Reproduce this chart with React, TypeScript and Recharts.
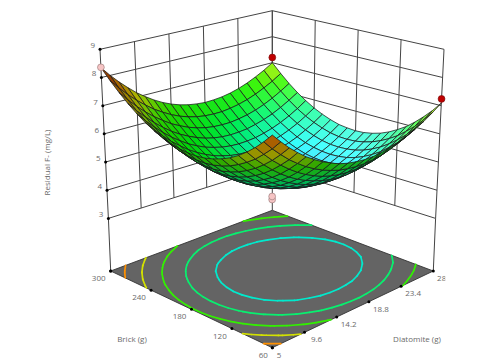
import { Scatter, ScatterChart, XAxis, YAxis } from "recharts";

const WIDTH = 490;
const HEIGHT = 363;

const brickLevels = [60, 72, 84, 96, 108, 120, 132, 144, 156, 168, 180, 192, 204, 216, 228, 240, 252, 264, 276, 288, 300];
const diatomiteLevels = [5, 6.15, 7.3, 8.45, 9.6, 10.75, 11.9, 13.05, 14.2, 15.35, 16.5, 17.65, 18.8, 19.95, 21.1, 22.25, 23.4, 24.55, 25.7, 26.85, 28];

// residual F-: one row per diatomite level, one column per brick level
const residualRows = [
  [8.09, 7.77, 7.48, 7.23, 7.01, 6.83, 6.69, 6.58, 6.5, 6.46, 6.46, 6.49, 6.55, 6.65, 6.79, 6.96, 7.17, 7.41, 7.69, 8.0, 8.35],
  [7.77, 7.44, 7.16, 6.9, 6.69, 6.51, 6.36, 6.25, 6.17, 6.13, 6.13, 6.16, 6.22, 6.32, 6.46, 6.63, 6.83, 7.07, 7.35, 7.66, 8.01],
  [7.47, 7.15, 6.86, 6.61, 6.39, 6.21, 6.06, 5.95, 5.87, 5.83, 5.83, 5.85, 5.92, 6.02, 6.15, 6.32, 6.53, 6.77, 7.04, 7.35, 7.7],
  [7.21, 6.88, 6.6, 6.34, 6.12, 5.94, 5.79, 5.68, 5.6, 5.56, 5.55, 5.58, 5.64, 5.74, 5.88, 6.04, 6.25, 6.49, 6.76, 7.07, 7.42],
  [6.97, 6.65, 6.36, 6.1, 5.88, 5.7, 5.55, 5.44, 5.36, 5.31, 5.31, 5.33, 5.4, 5.49, 5.63, 5.8, 6.0, 6.24, 6.51, 6.82, 7.16],
  [6.77, 6.44, 6.15, 5.89, 5.67, 5.49, 5.34, 5.22, 5.14, 5.1, 5.09, 5.12, 5.18, 5.28, 5.41, 5.57, 5.78, 6.01, 6.29, 6.59, 6.94],
  [6.59, 6.26, 5.97, 5.71, 5.49, 5.3, 5.15, 5.04, 4.96, 4.91, 4.9, 4.93, 4.99, 5.09, 5.22, 5.38, 5.58, 5.82, 6.09, 6.4, 6.74],
  [6.44, 6.11, 5.82, 5.56, 5.34, 5.15, 5.0, 4.88, 4.8, 4.76, 4.75, 4.77, 4.83, 4.92, 5.05, 5.22, 5.42, 5.66, 5.93, 6.23, 6.57],
  [6.31, 5.99, 5.69, 5.44, 5.21, 5.02, 4.87, 4.76, 4.67, 4.63, 4.61, 4.64, 4.7, 4.79, 4.92, 5.08, 5.28, 5.52, 5.79, 6.09, 6.43],
  [6.22, 5.89, 5.6, 5.34, 5.12, 4.93, 4.77, 4.66, 4.57, 4.53, 4.51, 4.54, 4.59, 4.69, 4.82, 4.98, 5.18, 5.41, 5.68, 5.98, 6.32],
  [6.16, 5.83, 5.53, 5.27, 5.05, 4.86, 4.7, 4.59, 4.5, 4.45, 4.44, 4.46, 4.52, 4.61, 4.74, 4.9, 5.1, 5.33, 5.6, 5.9, 6.24],
  [6.12, 5.79, 5.5, 5.23, 5.01, 4.82, 4.66, 4.54, 4.46, 4.41, 4.4, 4.42, 4.47, 4.56, 4.69, 4.85, 5.05, 5.28, 5.55, 5.85, 6.19],
  [6.11, 5.78, 5.49, 5.22, 5.0, 4.81, 4.65, 4.53, 4.45, 4.39, 4.38, 4.4, 4.46, 4.55, 4.67, 4.83, 5.03, 5.26, 5.53, 5.83, 6.16],
  [6.14, 5.8, 5.51, 5.24, 5.02, 4.82, 4.67, 4.55, 4.46, 4.41, 4.39, 4.41, 4.47, 4.56, 4.68, 4.84, 5.04, 5.27, 5.53, 5.83, 6.17],
  [6.19, 5.85, 5.55, 5.29, 5.06, 4.87, 4.71, 4.59, 4.5, 4.45, 4.43, 4.45, 4.51, 4.59, 4.72, 4.88, 5.07, 5.3, 5.57, 5.87, 6.2],
  [6.27, 5.93, 5.63, 5.37, 5.14, 4.94, 4.79, 4.66, 4.57, 4.52, 4.5, 4.52, 4.57, 4.66, 4.79, 4.94, 5.14, 5.37, 5.63, 5.93, 6.26],
  [6.37, 6.04, 5.74, 5.47, 5.24, 5.05, 4.89, 4.76, 4.67, 4.62, 4.6, 4.62, 4.67, 4.76, 4.88, 5.04, 5.23, 5.46, 5.72, 6.02, 6.35],
  [6.51, 6.17, 5.87, 5.61, 5.37, 5.18, 5.02, 4.89, 4.8, 4.75, 4.73, 4.75, 4.8, 4.88, 5.0, 5.16, 5.35, 5.58, 5.84, 6.14, 6.47],
  [6.67, 6.34, 6.03, 5.77, 5.54, 5.34, 5.18, 5.05, 4.96, 4.91, 4.89, 4.9, 4.95, 5.04, 5.16, 5.31, 5.5, 5.73, 5.99, 6.29, 6.62],
  [6.87, 6.53, 6.22, 5.96, 5.72, 5.53, 5.37, 5.24, 5.15, 5.09, 5.07, 5.08, 5.13, 5.22, 5.34, 5.49, 5.68, 5.91, 6.17, 6.46, 6.79],
  [7.09, 6.75, 6.45, 6.18, 5.94, 5.75, 5.58, 5.45, 5.36, 5.3, 5.28, 5.3, 5.34, 5.43, 5.55, 5.7, 5.89, 6.11, 6.37, 6.67, 7.0],
];

const brickTicks = [60, 120, 180, 240, 300];
const diatomiteTicks = [5, 9.6, 14.2, 18.8, 23.4, 28];
const residualTicks = [3, 4, 5, 6, 7, 8, 9];

const contourLevels = [5.05, 5.72, 6.4, 7.08, 7.75];

const abovePoints = [
  { brick: 300, diatomite: 5, residual: 8.36, kind: "below" },
  { brick: 300, diatomite: 28, residual: 7.2, kind: "above" },
  { brick: 60, diatomite: 28, residual: 7.24, kind: "above" },
];
const centerPoints = [
  { brick: 180, diatomite: 16.5, residual: 3.85, kind: "below" },
  { brick: 180, diatomite: 16.5, residual: 3.96, kind: "below" },
];

// value -> colour ramp of the response
const rampValues = [3.9, 4.85, 5.6, 6.4, 7.1, 7.75, 8.4];
const rampColors = [
  [20, 110, 255],
  [0, 232, 232],
  [0, 240, 130],
  [50, 240, 0],
  [216, 226, 0],
  [255, 144, 0],
  [215, 35, 0],
];

// box corners on screen: front, left, back, right
const top9 = [[272.3, 107.2], [100, 49.3], [272.3, 10.7], [444, 49.3]];
const bottom3 = [[272.3, 290.8], [108.4, 218.4], [272.3, 166.7], [435.6, 218.4]];
const floorCorners = [[272.3, 347.7], [110.7, 271], [272.3, 210.3], [433.3, 271]];

const mix = (corners: number[][], u: number, v: number) => {
  const [f, l, b, r] = corners;
  const at = (k: number) =>
    f[k] * (1 - u) * (1 - v) + l[k] * u * (1 - v) + b[k] * u * v + r[k] * (1 - u) * v;
  return { x: at(0), y: at(1) };
};

const toU = (brick: number) => (brick - 60) / 240;
const toV = (diatomite: number) => (diatomite - 5) / 23;

const project = (brick: number, diatomite: number, residual: number) => {
  const a = mix(top9, toU(brick), toV(diatomite));
  const b = mix(bottom3, toU(brick), toV(diatomite));
  const t = (9 - residual) / 6;
  return { x: a.x + (b.x - a.x) * t, y: a.y + (b.y - a.y) * t };
};

const projectFloor = (brick: number, diatomite: number) => mix(floorCorners, toU(brick), toV(diatomite));

const rampColor = (value: number): number[] => {
  if (value <= rampValues[0]) return rampColors[0];
  for (let i = 1; i < rampValues.length; i++) {
    if (value <= rampValues[i]) {
      const t = (value - rampValues[i - 1]) / (rampValues[i] - rampValues[i - 1]);
      return rampColors[i].map((c, k) => rampColors[i - 1][k] + (c - rampColors[i - 1][k]) * t);
    }
  }
  return rampColors[rampColors.length - 1];
};

const toCss = (c: number[]) =>
  `rgb(${c.map((n) => Math.round(Math.max(0, Math.min(255, n)))).join(",")})`;

const centroid = (pts: { x: number; y: number }[]) => ({
  x: pts.reduce((s, p) => s + p.x, 0) / pts.length,
  y: pts.reduce((s, p) => s + p.y, 0) / pts.length,
});

const light = [0.15, -0.7, 0.7];

const shadeCell = (zs: number[], area: number) => {
  // zs: (i,j) (i+1,j) (i+1,j+1) (i,j+1), slopes per half box width
  const dzu = ((zs[1] + zs[2] - zs[0] - zs[3]) / 2 / 0.1) * 0.33;
  const dzv = ((zs[2] + zs[3] - zs[0] - zs[1]) / 2 / 0.1) * 0.33;
  const len = Math.sqrt(dzu * dzu + dzv * dzv + 1);
  const n = [-dzu / len, -dzv / len, 1 / len];
  const base = rampColor((zs[0] + zs[1] + zs[2] + zs[3]) / 4);
  if (area < 0) {
    const dim = 0.45 + 0.4 * n[2];
    return toCss([base[0] * dim, base[1] * dim, base[2] * dim * 0.7]);
  }
  const dot = n[0] * light[0] + n[1] * light[1] + n[2] * light[2];
  const level = dot > 0 ? 0.85 + 0.3 * dot : 0.85 + 1.8 * dot;
  const white = Math.max(0, dot - 0.5) * 0.7;
  // faces turned from the light lose their blue, so the left slope reads green and olive
  const blueGain = Math.pow(Math.max(0, Math.min(1, dot / 0.7)), 1.5);
  const lit = [base[0] * level, base[1] * level, base[2] * level * blueGain].map((c) => Math.min(255, c));
  return toCss(lit.map((c) => c + (255 - c) * white));
};

const buildCells = () => {
  const cells = [];
  for (let j = 0; j < 20; j++) {
    for (let i = 0; i < 20; i++) {
      const zs = [residualRows[j][i], residualRows[j][i + 1], residualRows[j + 1][i + 1], residualRows[j + 1][i]];
      const corners = [
        project(brickLevels[i], diatomiteLevels[j], zs[0]),
        project(brickLevels[i + 1], diatomiteLevels[j], zs[1]),
        project(brickLevels[i + 1], diatomiteLevels[j + 1], zs[2]),
        project(brickLevels[i], diatomiteLevels[j + 1], zs[3]),
      ];
      let area = 0;
      corners.forEach((p, k) => {
        const q = corners[(k + 1) % 4];
        area += p.x * q.y - q.x * p.y;
      });
      cells.push({ ...centroid(corners), corners, fill: shadeCell(zs, area), order: i + j });
    }
  }
  return cells.sort((a, b) => b.order - a.order);
};

// marching squares over the table, drawn on the floor
const buildContours = () => {
  const segments = [];
  contourLevels.forEach((level) => {
    for (let j = 0; j < 20; j++) {
      for (let i = 0; i < 20; i++) {
        const vals = [residualRows[j][i], residualRows[j][i + 1], residualRows[j + 1][i + 1], residualRows[j + 1][i]];
        const pos = [
          [brickLevels[i], diatomiteLevels[j]],
          [brickLevels[i + 1], diatomiteLevels[j]],
          [brickLevels[i + 1], diatomiteLevels[j + 1]],
          [brickLevels[i], diatomiteLevels[j + 1]],
        ];
        const hits = [];
        for (let k = 0; k < 4; k++) {
          const m = (k + 1) % 4;
          if (vals[k] < level !== vals[m] < level) {
            const t = (level - vals[k]) / (vals[m] - vals[k]);
            hits.push(projectFloor(pos[k][0] + (pos[m][0] - pos[k][0]) * t, pos[k][1] + (pos[m][1] - pos[k][1]) * t));
          }
        }
        for (let h = 0; h + 1 < hits.length; h += 2) {
          segments.push({ x: hits[h].x, y: hits[h].y, x2: hits[h + 1].x, y2: hits[h + 1].y, stroke: toCss(rampColor(level)) });
        }
      }
    }
  });
  return segments;
};

const wallLines = () => {
  const lines: { x: number; y: number }[][] = [];
  residualTicks.forEach((z) => {
    lines.push([project(60, 28, z), project(300, 28, z), project(300, 5, z)]);
  });
  diatomiteTicks.forEach((d) => {
    lines.push([project(300, d, 9), project(300, d, 3)]);
  });
  brickTicks.forEach((b) => {
    lines.push([project(b, 28, 9), project(b, 28, 3)]);
  });
  lines.push([project(300, 5, 3), projectFloor(300, 5)]);
  lines.push([project(300, 28, 3), projectFloor(300, 28)]);
  lines.push([project(60, 28, 3), projectFloor(60, 28)]);
  return lines;
};

const tickDots = [
  ...residualTicks.map((z) => project(300, 5, z)),
  ...brickTicks.map((b) => projectFloor(b, 5)),
  ...diatomiteTicks.map((d) => projectFloor(60, d)),
  projectFloor(300, 5),
];

const textRows = [
  ...residualTicks.map((z) => {
    const p = project(300, 5, z);
    return { x: p.x - 7.3, y: p.y - 4.6, text: String(z) };
  }),
  ...brickTicks.map((b) => {
    const p = projectFloor(b, 5);
    return { x: p.x - (b === 60 ? 9 : 12), y: p.y + 6.5, text: String(b) };
  }),
  ...diatomiteTicks.map((d) => {
    const p = projectFloor(60, d);
    if (d === 5) return { x: p.x + 6.7, y: p.y + 7, text: "5" };
    if (d === 28) return { x: p.x + 8.4, y: p.y + 6, text: "28", clipRight: 3.6 };
    return { x: p.x + 12, y: p.y + 6.5, text: String(d) };
  }),
  { x: 132, y: 338, text: "Brick (g)" },
  { x: 417, y: 338, text: "Diatomite (g)" },
  { x: 46, y: 162.5, text: "Residual F- (mg/L)", rotate: -90 },
];

const floorRow = [{ ...centroid(floorCorners.map(([x, y]) => ({ x, y }))), corners: floorCorners.map(([x, y]) => ({ x, y })), fill: "#646464" }];

const PolyShape = (props: any) => {
  const { cx, cy, payload } = props;
  const points = payload.corners
    .map((p: any) => `${cx + p.x - payload.x},${cy + p.y - payload.y}`)
    .join(" ");
  return <polygon points={points} fill={payload.fill} stroke="#1a1a1a" strokeWidth={0.75} strokeLinejoin="round" />;
};

const FloorShape = (props: any) => {
  const { cx, cy, payload } = props;
  const points = payload.corners
    .map((p: any) => `${cx + p.x - payload.x},${cy + p.y - payload.y}`)
    .join(" ");
  return <polygon points={points} fill={payload.fill} stroke="#333" strokeWidth={0.9} />;
};

const SegmentShape = (props: any) => {
  const { cx, cy, payload } = props;
  return (
    <line
      x1={cx}
      y1={cy}
      x2={cx + payload.x2 - payload.x}
      y2={cy + payload.y2 - payload.y}
      stroke={payload.stroke}
      strokeWidth={1.7}
      strokeLinecap="round"
    />
  );
};

const DotShape = (props: any) => <circle cx={props.cx} cy={props.cy} r={1.5} fill="#000" />;

const DesignShape = (props: any) => {
  const below = props.payload.kind === "below";
  return (
    <circle
      cx={props.cx}
      cy={props.cy}
      r={3.4}
      fill={below ? "#f6c4c4" : "#c00000"}
      stroke={below ? "#a08080" : "#801010"}
      strokeWidth={0.7}
    />
  );
};

const TextShape = (props: any) => {
  const { cx, cy, payload } = props;
  const clipId = `clip-${payload.text}`;
  return (
    <g>
      {payload.clipRight ? (
        <clipPath id={clipId}>
          <rect x={cx - 12} y={cy - 8} width={12 + payload.clipRight} height={16} />
        </clipPath>
      ) : null}
      <text
        x={cx}
        y={cy}
        textAnchor="middle"
        dominantBaseline="central"
        fontFamily="'Open Sans', sans-serif"
        fontSize={8}
        fill="#6a6a6a"
        clipPath={payload.clipRight ? `url(#${clipId})` : undefined}
        transform={payload.rotate ? `rotate(${payload.rotate} ${cx} ${cy})` : undefined}
      >
        {payload.text}
      </text>
    </g>
  );
};

const NoDot = () => null;

const designRow = (p: (typeof abovePoints)[number]) => ({ ...project(p.brick, p.diatomite, p.residual), kind: p.kind });

export default function App() {
  const cells = buildCells();
  const contours = buildContours();
  return (
    <div style={{ position: "absolute", left: 0, top: 0, width: WIDTH, height: HEIGHT, background: "#fff" }}>
      <ScatterChart width={WIDTH} height={HEIGHT} margin={{ top: 0, right: 0, bottom: 0, left: 0 }}>
        <XAxis type="number" dataKey="x" domain={[0, WIDTH]} hide />
        <YAxis type="number" dataKey="y" domain={[0, HEIGHT]} reversed hide />
        {wallLines().map((line, i) => (
          <Scatter
            key={i}
            data={line}
            shape={NoDot}
            line={{ stroke: "#444", strokeWidth: 1 }}
            isAnimationActive={false}
          />
        ))}
        <Scatter data={floorRow} shape={FloorShape} isAnimationActive={false} />
        <Scatter data={contours} shape={SegmentShape} isAnimationActive={false} />
        <Scatter data={tickDots} shape={DotShape} isAnimationActive={false} />
        <Scatter data={centerPoints.map(designRow)} shape={DesignShape} isAnimationActive={false} />
        <Scatter data={cells} shape={PolyShape} isAnimationActive={false} />
        <Scatter data={abovePoints.map(designRow)} shape={DesignShape} isAnimationActive={false} />
        <Scatter data={textRows} shape={TextShape} isAnimationActive={false} />
      </ScatterChart>
    </div>
  );
}
